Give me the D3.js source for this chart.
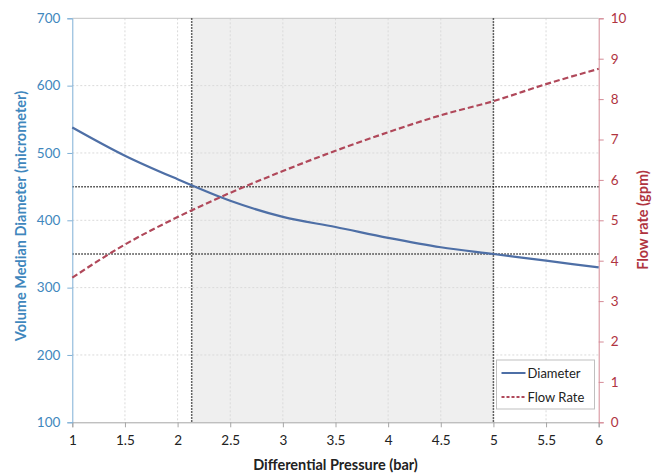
<!DOCTYPE html>
<html><head><meta charset="utf-8">
<script src="https://cdn.jsdelivr.net/npm/d3@7/dist/d3.min.js"></script>
<style>body{margin:0;background:#fff}svg{display:block}text{font-family:Lato,"Open Sans",sans-serif}</style>
</head><body><svg id="c" width="658" height="475"></svg>
<script>
const pressure = [1, 1.5, 2, 2.5, 3, 3.5, 4, 4.5, 5, 5.5, 6];
const diameter = [538, 496, 461, 429, 405, 390, 374, 360, 350, 340, 330];
const flowRate = [3.58, 4.4, 5.08, 5.68, 6.22, 6.72, 7.18, 7.6, 7.95, 8.37, 8.75];
const xTicks = [1, 1.5, 2, 2.5, 3, 3.5, 4, 4.5, 5, 5.5, 6];
const yLeftTicks = [100, 200, 300, 400, 500, 600, 700];
const yRightTicks = [0, 1, 2, 3, 4, 5, 6, 7, 8, 9, 10];
const bandRange = [2.134, 5];
const refDiameters = [450, 350];
const seriesNames = ["Diameter", "Flow Rate"];

const svg = d3.select("#c");
const m = {l: 72.3, r: 598.7, t: 18.3, b: 422.3};
const x = d3.scaleLinear().domain([1, 6]).range([m.l, m.r]);
const yL = d3.scaleLinear().domain([100, 700]).range([m.b, m.t]);
const yR = d3.scaleLinear().domain([0, 10]).range([m.b, m.t]);

// shaded band
svg.append("rect").attr("x", x(bandRange[0])).attr("y", m.t)
  .attr("width", x(bandRange[1]) - x(bandRange[0])).attr("height", m.b - m.t)
  .attr("fill", "#efefef");

// gridlines
const g = svg.append("g");
g.selectAll(".vg").data(xTicks.slice(1, -1)).join("line")
  .attr("x1", d => x(d)).attr("x2", d => x(d)).attr("y1", m.t).attr("y2", m.b)
  .attr("stroke", "#dadada").attr("stroke-dasharray", "2,2");
g.selectAll(".hg").data(yLeftTicks.slice(1)).join("line")
  .attr("x1", m.l).attr("x2", m.r).attr("y1", d => yL(d)).attr("y2", d => yL(d))
  .attr("stroke", d => d === 700 ? "#c4c4c4" : "#dadada")
  .attr("stroke-dasharray", d => d === 700 ? null : "2,2");

// band borders
bandRange.forEach(v => {
  svg.append("line").attr("x1", x(v)).attr("x2", x(v)).attr("y1", m.t).attr("y2", m.b)
    .attr("stroke", "#333").attr("stroke-width", 1.5).attr("stroke-dasharray", "1.5,1.5");
});
// reference horizontal lines
refDiameters.forEach(v => {
  svg.append("line").attr("x1", m.l).attr("x2", m.r).attr("y1", yL(v)).attr("y2", yL(v))
    .attr("stroke", "#333").attr("stroke-width", 1.5).attr("stroke-dasharray", "1.5,1.5");
});

// axes
const fs = "13.5px";
const xAxis = svg.append("g").attr("transform", `translate(0,${m.b})`)
  .call(d3.axisBottom(x).tickValues(xTicks).tickSize(5).tickPadding(8).tickFormat(d3.format("")));
xAxis.select(".domain").attr("stroke", "#a6a6a6");
xAxis.selectAll(".tick line").attr("stroke", "#a6a6a6");
xAxis.selectAll("text").attr("fill", "#222").style("font-size", fs);

const yAxisL = svg.append("g").attr("transform", `translate(${m.l},0)`)
  .call(d3.axisLeft(yL).tickValues(yLeftTicks).tickSize(5).tickPadding(7));
yAxisL.select(".domain").attr("stroke", "#7fb0d6");
yAxisL.selectAll(".tick line").attr("stroke", "#7fb0d6");
yAxisL.selectAll("text").attr("fill", "#3f87bd").style("font-size", fs);

const yAxisR = svg.append("g").attr("transform", `translate(${m.r},0)`)
  .call(d3.axisRight(yR).tickValues(yRightTicks).tickSize(5).tickPadding(7));
yAxisR.select(".domain").attr("stroke", "#d48a96");
yAxisR.selectAll(".tick line").attr("stroke", "#d48a96");
yAxisR.selectAll("text").attr("fill", "#b0343f").style("font-size", fs);

// lines
const dLine = d3.line().x((d, i) => x(pressure[i])).y(d => yL(d)).curve(d3.curveMonotoneX);
const fLine = d3.line().x((d, i) => x(pressure[i])).y(d => yR(d)).curve(d3.curveMonotoneX);
svg.append("path").attr("d", dLine(diameter)).attr("fill", "none")
  .attr("stroke", "#4e6fa6").attr("stroke-width", 2.2);
svg.append("path").attr("d", fLine(flowRate)).attr("fill", "none")
  .attr("stroke", "#b0485a").attr("stroke-width", 2.2).attr("stroke-dasharray", "6,3");

// titles
svg.append("text").attr("x", (m.l + m.r) / 2).attr("y", 470).attr("text-anchor", "middle")
  .attr("font-weight", "bold").style("font-size", "14.5px").attr("fill", "#222")
  .text("Differential Pressure (bar)");
svg.append("text").attr("transform", `translate(26,216) rotate(-90)`)
  .attr("text-anchor", "middle").attr("font-weight", "bold").style("font-size", "14.5px")
  .attr("fill", "#3f87bd").text("Volume Median Diameter (micrometer)");
svg.append("text").attr("transform", `translate(648,220) rotate(-90)`)
  .attr("text-anchor", "middle").attr("font-weight", "bold").style("font-size", "14.5px")
  .attr("fill", "#b0343f").text("Flow rate (gpm)");

// legend
const lg = svg.append("g").attr("transform", "translate(496.5,360)");
lg.append("rect").attr("width", 98).attr("height", 49).attr("fill", "#fff").attr("stroke", "#bfbfbf");
const styles = [{c: "#4e6fa6", d: null}, {c: "#b0485a", d: "3,2"}];
seriesNames.forEach((n, i) => {
  const yy = 13 + i * 24;
  lg.append("line").attr("x1", 5).attr("x2", 29).attr("y1", yy).attr("y2", yy)
    .attr("stroke", styles[i].c).attr("stroke-width", 2).attr("stroke-dasharray", styles[i].d);
  lg.append("text").attr("x", 31).attr("y", yy + 4.5).style("font-size", "13px")
    .attr("fill", "#222").text(n);
});
</script></body></html>
